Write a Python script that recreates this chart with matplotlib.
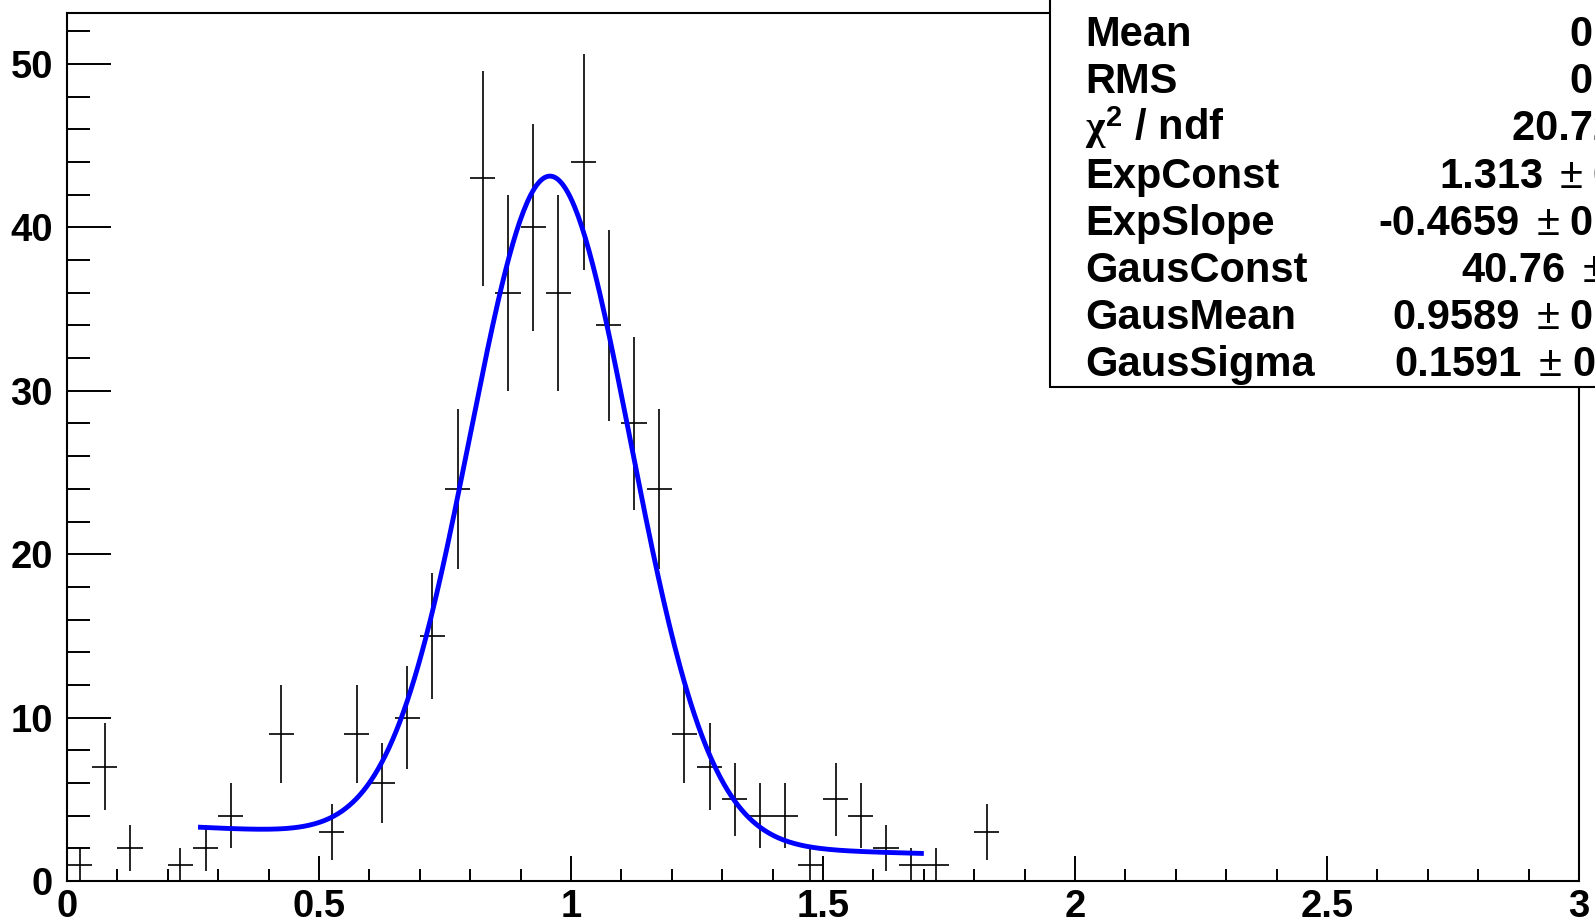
import numpy as np
import matplotlib
matplotlib.use("Agg")
import matplotlib.pyplot as plt
from matplotlib.patches import Rectangle

plt.rcParams['font.family'] = ['Liberation Sans', 'DejaVu Sans']
plt.rcParams['font.weight'] = 'bold'
plt.rcParams['mathtext.fontset'] = 'custom'
plt.rcParams['mathtext.rm'] = 'Liberation Sans:bold'
plt.rcParams['mathtext.bf'] = 'Liberation Sans:bold'
plt.rcParams['mathtext.it'] = 'Liberation Serif'

# Histogram: 60 bins of width 0.05 on [0, 3]
bin_width = 0.05
bin_centers = np.arange(0.025, 3.0, bin_width)
counts = [1, 7, 2, 0, 1, 2, 4, 0, 9, 0,
          3, 9, 6, 10, 15, 24, 43, 36, 40, 36,
          44, 34, 28, 24, 9, 7, 5, 4, 4, 1,
          5, 4, 2, 1, 1, 0, 3, 0, 0, 0,
          0, 0, 0, 0, 0, 0, 0, 0, 0, 0,
          0, 0, 0, 0, 0, 0, 0, 0, 0, 0]

# Fit parameters: exponential background + gaussian peak
exp_const = 1.313
exp_slope = -0.4659
gaus_const = 40.76
gaus_mean = 0.9589
gaus_sigma = 0.1591
fit_range = (0.26, 1.70)

stat_names = ["Mean", "RMS", r"$\chi^{\mathbf{2}}$ / ndf", "ExpConst", "ExpSlope",
              "GausConst", "GausMean", "GausSigma"]
stat_values = [("0.9577", None), ("0.2874", None), ("20.72 / 27", None),
               ("1.313", "0.163"), ("-0.4659", "0.0982"), ("40.76", "2.84"),
               ("0.9589", "0.0135"), ("0.1591", "0.0119")]

W, H = 1595, 923
fig = plt.figure(figsize=(W / 100, H / 100), dpi=100)
ax = fig.add_axes([67 / W, 1 - 881 / H, (1579 - 67) / W, (881 - 13) / H])

x = np.array(bin_centers)
y = np.array(counts, dtype=float)
filled = y > 0
ax.errorbar(x[filled], y[filled], xerr=bin_width / 2, yerr=np.sqrt(y[filled]),
            fmt='none', ecolor='black', elinewidth=1.2, capsize=0, zorder=2)

xf = np.linspace(fit_range[0], fit_range[1], 400)
yf = np.exp(exp_const + exp_slope * xf) + \
    gaus_const * np.exp(-0.5 * ((xf - gaus_mean) / gaus_sigma) ** 2)
ax.plot(xf, yf, color=(0, 0, 1), lw=3.5, zorder=3, solid_capstyle='butt')

ax.set_xlim(0, 3)
ax.set_ylim(0, 53.12)
ax.set_xticks(np.arange(0, 3.01, 0.5))
ax.set_xticks(np.arange(0, 3.01, 0.1), minor=True)
ax.set_xticklabels(["0", "0.5", "1", "1.5", "2", "2.5", "3"])
ax.set_yticks(np.arange(0, 51, 10))
ax.set_yticks(np.arange(0, 53, 2), minor=True)

for s in ax.spines.values():
    s.set_linewidth(1.5)
ax.tick_params(axis='both', which='both', direction='in', top=False, right=False,
               width=1.4, labelsize=27.5)
ax.tick_params(axis='x', which='major', length=18, pad=6)
ax.tick_params(axis='x', which='minor', length=9)
ax.tick_params(axis='y', which='major', length=32, pad=10)
ax.tick_params(axis='y', which='minor', length=16.5)
for lab in ax.get_xticklabels() + ax.get_yticklabels():
    lab.set_fontweight('bold')

# Statistics box, extending past the right edge of the canvas
box = Rectangle((1050 / W, 1 - 387 / H), 700 / W, 500 / H, transform=fig.transFigure,
                facecolor='white', edgecolor='black', lw=1.5, zorder=10)
fig.patches.append(box)

renderer = fig.canvas.get_renderer()
x_right = 1697
fs = 30


def width_px(t):
    return t.get_window_extent(renderer=renderer).width


for i, (name, (val, err)) in enumerate(zip(stat_names, stat_values)):
    yb = 1 - (46 + i * 47.2) / H
    fig.text(1085 / W, yb, name, fontsize=fs, fontweight='bold', ha='left',
             va='baseline', zorder=11)
    if err is None:
        fig.text(x_right / W, yb, val, fontsize=fs, fontweight='bold', ha='right',
                 va='baseline', zorder=11)
        continue
    t_err = fig.text(x_right / W, yb, err, fontsize=fs, fontweight='bold',
                     ha='right', va='baseline', zorder=11)
    xr = x_right - width_px(t_err) - 10
    t_pm = fig.text(xr / W, yb, "\u00b1", fontsize=fs, fontweight='normal',
                    ha='right', va='baseline', zorder=11)
    xr = xr - width_px(t_pm) - 17
    fig.text(xr / W, yb, val, fontsize=fs, fontweight='bold', ha='right',
             va='baseline', zorder=11)

fig.savefig("out.png", dpi=100)
